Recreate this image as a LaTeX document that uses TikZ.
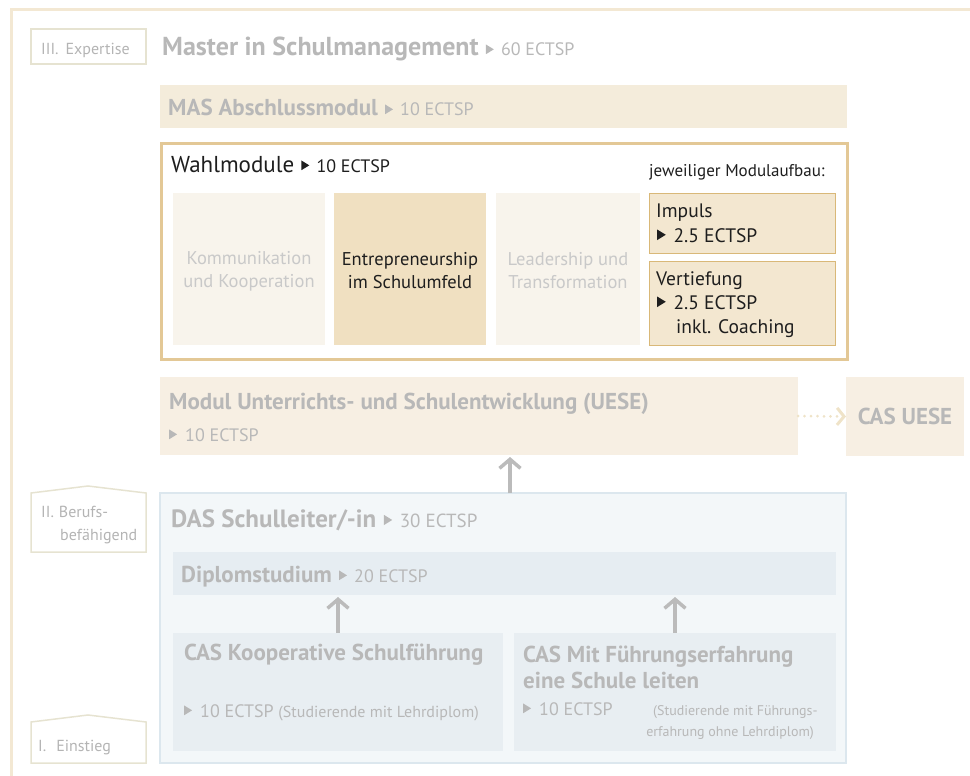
\documentclass[tikz,border=0pt]{standalone}
\usepackage{fontspec}
\setmainfont{PT Sans}
\usetikzlibrary{arrows.meta,positioning}
\definecolor{framecream}{HTML}{F3E8D3}
\definecolor{lvlline}{HTML}{E6E3D1}
\definecolor{lvltext}{HTML}{B4B4B4}
\definecolor{titlegray}{HTML}{B8B8B8}
\definecolor{softgray}{HTML}{C9C9C9}
\definecolor{inkblack}{HTML}{1E1E1E}
\definecolor{masfill}{HTML}{F4ECDB}
\definecolor{wahlline}{HTML}{E3C896}
\definecolor{modfill}{HTML}{F8F4EC}
\definecolor{entrefill}{HTML}{F0E0C1}
\definecolor{impfill}{HTML}{F3E7D0}
\definecolor{impline}{HTML}{D9B878}
\definecolor{uesefill}{HTML}{F7EFE3}
\definecolor{dotcream}{HTML}{EFE3C8}
\definecolor{dasfill}{HTML}{F3F7F9}
\definecolor{dasline}{HTML}{DCE7EE}
\definecolor{diplomfill}{HTML}{E6EDF2}
\definecolor{casfill}{HTML}{E8EEF2}
\definecolor{arrowgray}{HTML}{BBBBBB}
\newcommand\ptr{\tikz[baseline=0pt,x=1pt,y=1pt]\fill (0,0.1em) -- (0.44em,0.37em) -- (0,0.64em) -- cycle;}
\newcommand\ects[1]{{\fontsize{18}{21}\selectfont\mdseries\hspace{0.4em}\ptr\hspace{0.4em}#1~ECTSP}}
\begin{document}
\begin{tikzpicture}[x=1pt,y=-1pt,
  box/.style={anchor=north west,inner sep=0pt,outer sep=0pt},
  txt/.style={anchor=base west,inner sep=0pt},
  head/.style={txt,text=titlegray,font=\fontsize{23}{27}\selectfont\bfseries},
  small/.style={txt,text=titlegray,font=\fontsize{18}{21}\selectfont},
  lvl/.style={txt,text=lvltext,font=\fontsize{16}{19}\selectfont},
  modtext/.style={align=center,inner sep=0pt,font=\fontsize{18.5}{23}\selectfont},
  imptext/.style={txt,text=inkblack,font=\fontsize{19.5}{22}\selectfont},
  paren/.style={txt,text=titlegray,font=\fontsize{14}{17}\selectfont},
  uparrow/.style={draw=arrowgray,line width=3.5,-{Straight Barb[length=9,width=21]},shorten >=2}]
\useasboundingbox (0,0) rectangle (970,776);
\draw[framecream,line width=3] (970,10) -- (11,10) -- (11,776);
\node[box,draw=lvlline,line width=1.5,minimum width=115,minimum height=35] (lvlthree) at (31,29) {};
\node[lvl] (lvlthreetext) at (41,55) {III.\hspace{7pt}Expertise};
\node[head,font=\fontsize{26}{30}\selectfont\bfseries] (master) at (162,56) {Master in Schulmanagement\ects{60}};
\node[box,fill=masfill,minimum width=687,minimum height=43] (mas) at (160,85) {};
\node[head] (mastitle) at (168,116) {MAS Abschlussmodul\ects{10}};
\node[box,draw=wahlline,line width=3,fill=white,minimum width=686,minimum height=216] (wahl) at (161,143) {};
\node[txt,text=inkblack,font=\fontsize{23}{27}\selectfont] (wahltitle) at (171,172) {Wahlmodule\ects{10}};
\node[txt,text=inkblack,font=\fontsize{17}{20}\selectfont] (aufbau) at (649,176) {jeweiliger Modulaufbau:};
\node[box,fill=modfill,minimum width=152,minimum height=152] (komm) at (173,193) {};
\node[box,fill=entrefill,minimum width=152,minimum height=152] (entre) at (334,193) {};
\node[box,fill=modfill,minimum width=144,minimum height=152] (lead) at (496,193) {};
\node[modtext,text=softgray] (kommtext) at ([yshift=-2]komm.center) {Kommunikation\\und Kooperation};
\node[modtext,text=inkblack] (entretext) at ([yshift=-2]entre.center) {Entrepreneurship\\im Schulumfeld};
\node[modtext,text=softgray] (leadtext) at ([yshift=-2]lead.center) {Leadership und\\Transformation};
\node[box,fill=impfill,draw=impline,line width=1,minimum width=186,minimum height=60] (impuls) at (649,193) {};
\node[box,fill=impfill,draw=impline,line width=1,minimum width=186,minimum height=84] (vertief) at (649,261) {};
\node[imptext] (impulsa) at (656,217) {Impuls};
\node[imptext] (impulsb) at (657,242) {\ptr\hspace{0.4em}2.5 ECTSP};
\node[imptext] (vertiefa) at (656,285) {Vertiefung};
\node[imptext] (vertiefb) at (657,309) {\ptr\hspace{0.4em}2.5 ECTSP};
\node[imptext] (vertiefc) at (676,333) {inkl. Coaching};
\node[box,fill=uesefill,minimum width=638,minimum height=78] (uese) at (160,377) {};
\node[head] (uesetitle) at (169,409) {Modul Unterrichts- und Schulentwicklung (UESE)};
\node[small] (ueseects) at (169,441) {\ptr\hspace{0.45em}10 ECTSP};
\node[box,fill=uesefill,minimum width=118,minimum height=79] (casuese) at (846,377) {};
\node[head,anchor=center] (casuesetext) at (casuese.center) {CAS UESE};
\draw[dotcream,line width=3,line cap=round,dash pattern=on 0pt off 6.5pt,-{Straight Barb[length=7,width=17]}] (uese.east) -- (casuese.west);
\draw[lvlline,line width=1.5] (31,552) -- (31,493) -- (88,486) -- (146,493) -- (146,552) -- cycle;
\node[lvl] (lvltwoa) at (41,517) {II.\hspace{5pt}Berufs-};
\node[lvl] (lvltwob) at (60,540) {befähigend};
\node[box,fill=dasfill,draw=dasline,line width=2,minimum width=686,minimum height=270] (das) at (160,493) {};
\node[head,font=\fontsize{25}{29}\selectfont\bfseries] (dastitle) at (171,527) {DAS Schulleiter/-in{\fontsize{19}{22}\selectfont\mdseries\hspace{0.4em}\ptr\hspace{0.4em}30~ECTSP}};
\node[box,fill=diplomfill,minimum width=663,minimum height=43] (diplom) at (173,552) {};
\node[head] (diplomtitle) at (181,582) {Diplomstudium\ects{20}};
\node[box,fill=casfill,minimum width=330,minimum height=118] (caskoop) at (173,633) {};
\node[box,fill=casfill,minimum width=322,minimum height=118] (casmit) at (514,633) {};
\node[head] (caskooptitle) at (184,660) {CAS Kooperative Schulführung};
\node[small] (caskoopects) at (184,717) {\ptr\hspace{0.45em}10 ECTSP {\fontsize{16}{19}\selectfont(Studierende mit Lehrdiplom)}};
\node[head] (casmittitlea) at (523,662) {CAS Mit Führungserfahrung};
\node[head] (casmittitleb) at (523,688) {eine Schule leiten};
\node[small] (casmitects) at (523,715) {\ptr\hspace{0.45em}10 ECTSP};
\node[paren] (casmitnotea) at (653,715) {(Studierende mit Führungs-};
\node[paren,anchor=base east] (casmitnoteb) at (814,736) {erfahrung ohne Lehrdiplom)};
\draw[lvlline,line width=1.5] (31,763) -- (31,722) -- (88,715) -- (146,722) -- (146,763) -- cycle;
\node[lvl] (lvlone) at (38,751) {I.\hspace{10pt}Einstieg};
\draw[uparrow] ([xshift=7]das.north) -- ([xshift=7]das.north |- uese.south);
\draw[uparrow] (caskoop.north) -- (caskoop.north |- diplom.south);
\draw[uparrow] (casmit.north) -- (casmit.north |- diplom.south);
\end{tikzpicture}
\end{document}
